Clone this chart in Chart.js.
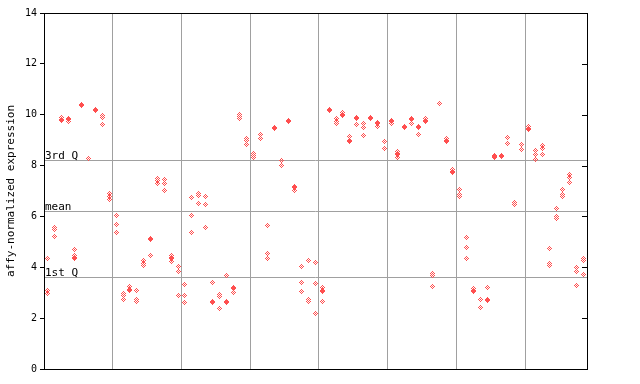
<!DOCTYPE html>
<html><head><meta charset="utf-8">
<script src="https://cdn.jsdelivr.net/npm/chart.js@4/dist/chart.umd.min.js"></script>
<style>html,body{margin:0;padding:0;background:#fff;}canvas{display:block;}</style>
</head><body>
<canvas id="c" width="640" height="384"></canvas>
<script>
// Sample columns (one array of replicate values per sample), grouped by the vertical separators
const group1 = [[4.36,3.1,2.95],[5.58,5.5,5.22],[9.9,9.8,9.78],[9.85,9.8,9.74],[4.68,4.45,4.4,4.35],[10.42,10.37],[8.29],[10.2,10.15],[9.98,9.88,9.63],[6.9,6.78,6.65]];
const group2 = [[6.05,5.69,5.38],[2.95,2.9,2.74],[3.24,3.14,3.08],[3.1,2.72,2.65],[4.26,4.16,4.07],[5.15,5.1,4.47],[7.48,7.4,7.28],[7.44,7.31,7.03],[4.45,4.4,4.33,4.24],[4.03,3.84,2.9]];
const group3 = [[3.33,2.9,2.62],[6.76,6.05,5.38],[6.9,6.82,6.52],[6.79,6.48,5.58],[3.41,2.66,2.62],[2.92,2.87,2.39],[3.69,2.66,2.62],[3.22,3.17,3.02],[10.0,9.93,9.85],[9.05,9.0,8.84]];
const group4 = [[8.46,8.38,8.3],[9.21,9.05],[5.63,4.55,4.36],[9.48,9.44],[8.2,8.02],[9.79,9.75],[7.16,7.12,7.02],[4.04,3.41,3.06],[4.28,2.72,2.64],[4.2,3.37,2.19]];
const group5 = [[3.19,3.08,3.03,2.66],[10.19,10.15],[9.87,9.75,9.65],[10.1,10.02,9.98],[9.16,9.0,8.96],[9.91,9.87,9.63],[9.67,9.51,9.2],[9.91,9.87],[9.7,9.66,9.55],[8.96,8.69]];
const group6 = [[9.79,9.75,9.67],[8.55,8.47,8.43,8.32],[9.52,9.48],[9.87,9.83,9.67],[9.52,9.48,9.24],[9.86,9.79,9.73],[3.76,3.68,3.25],[10.46],[9.08,8.97,8.93],[7.86,7.75,7.71]];
const group7 = [[7.07,6.86,6.77],[5.18,4.79,4.36],[3.18,3.1,3.03],[2.74,2.43],[3.21,2.75,2.71],[8.41,8.34,8.3],[8.38,8.34],[9.1,8.88],[6.56,6.48,6.45],[8.82,8.65]];
const group8 = [[9.55,9.45,9.4],[8.58,8.42,8.23],[8.79,8.68,8.45],[4.75,4.16,4.07],[6.32,6.0,5.9],[7.07,6.87,6.78],[7.63,7.54,7.35],[3.99,3.83,3.29],[4.36,4.28,3.71]];
const groups = [group1,group2,group3,group4,group5,group6,group7,group8];

const yTicks = [0,2,4,6,8,10,12,14];
const refLabels = ['3rd Q','mean','1st Q'];
const refValues = [8.23, 6.23, 3.63];
const yTitle = 'affy-normalized expression';

// build points
const columns = groups.flat();
const points = [];
columns.forEach((vals, i) => vals.forEach(v => points.push({x: i + 0.5, y: v})));
const groupEdges = [];
let acc = 0;
groups.forEach(g => { acc += g.length; groupEdges.push(acc); });
const nCols = columns.length;

// dithered diamond marker
function makeDiamond(color){
  const c = document.createElement('canvas');
  c.width = 5; c.height = 5;
  const g = c.getContext('2d');
  g.fillStyle = color;
  for (let dy=-2; dy<=2; dy++) for (let dx=-2; dx<=2; dx++){
    if (Math.abs(dx)+Math.abs(dy) <= 2 && ((dx+dy)%2===0)) g.fillRect(dx+2, dy+2, 1, 1);
  }
  return c;
}
const marker = makeDiamond('#ff4f4f');

const overlay = {
  id: 'overlay',
  beforeDatasetsDraw(chart){
    const {ctx, chartArea: a, scales: {y}} = chart;
    ctx.save();
    ctx.strokeStyle = '#a0a0a0'; ctx.lineWidth = 1;
    ctx.fillStyle = '#000';
    ctx.font = '11px "DejaVu Sans Mono"';
    ctx.textBaseline = 'bottom'; ctx.textAlign = 'left';
    refValues.forEach((v, k) => {
      const py = Math.round(y.getPixelForValue(v)) + 0.5;
      ctx.beginPath(); ctx.moveTo(a.left, py); ctx.lineTo(a.right, py); ctx.stroke();
      ctx.fillText(refLabels[k], a.left + 1, py + 1);
    });
    ctx.restore();
    ctx.imageSmoothingEnabled = false;
  },
  afterDatasetsDraw(chart){
    const {ctx, chartArea: a, scales: {y}} = chart;
    ctx.save();
    ctx.strokeStyle = '#000'; ctx.lineWidth = 1;
    ctx.strokeRect(Math.round(a.left) + 0.5, Math.round(a.top) + 0.5, Math.round(a.right - a.left), Math.round(a.bottom - a.top));
    ctx.beginPath();
    yTicks.forEach(t => {
      const py = Math.round(y.getPixelForValue(t)) + 0.5;
      ctx.moveTo(a.right - 5, py); ctx.lineTo(a.right, py);
    });
    ctx.stroke();
    ctx.restore();
  }
};

new Chart(document.getElementById('c'), {
  type: 'scatter',
  data: { datasets: [{ data: points, pointStyle: marker, pointRadius: 3, pointHoverRadius: 3 }] },
  options: {
    responsive: false, animation: false, devicePixelRatio: 1,
    layout: { padding: { left: 0, top: 13, right: 53, bottom: 15 } },
    plugins: { legend: { display: false }, tooltip: { enabled: false } },
    scales: {
      x: {
        type: 'linear', min: 0, max: nCols,
        afterBuildTicks: s => { s.ticks = groupEdges.slice(0, -1).map(v => ({value: v})); },
        afterFit: s => { s.height = 0; },
        ticks: { display: false },
        grid: { color: '#a0a0a0', drawTicks: false, lineWidth: 1 },
        border: { display: false }
      },
      y: {
        min: 0, max: 14,
        afterBuildTicks: s => { s.ticks = yTicks.map(v => ({value: v})); },
        afterFit: s => { s.width = 44; },
        ticks: { color: '#000', padding: 3, font: { family: 'DejaVu Sans Mono', size: 10 } },
        grid: { drawOnChartArea: false, drawTicks: true, tickLength: 4, tickColor: '#000' },
        border: { display: true, color: '#000' },
        title: { display: true, text: yTitle, color: '#000', padding: { top: 5, bottom: 0 },
                 font: { family: 'DejaVu Sans Mono', size: 11 } }
      }
    }
  },
  plugins: [overlay]
});
</script>
</body></html>
